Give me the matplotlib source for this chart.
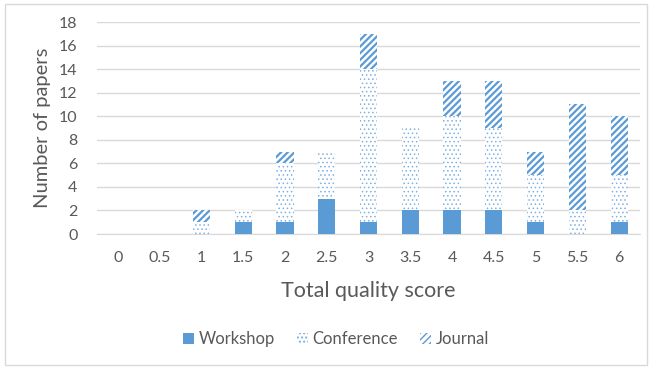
import matplotlib.pyplot as plt
import numpy as np

plt.rcParams['font.family'] = ['Lato', 'DejaVu Sans']

scores = ['0', '0.5', '1', '1.5', '2', '2.5', '3', '3.5', '4', '4.5', '5', '5.5', '6']
workshop = [0, 0, 0, 1, 1, 3, 1, 2, 2, 2, 1, 0, 1]
conference = [0, 0, 1, 1, 5, 4, 13, 7, 8, 7, 4, 2, 4]
journal = [0, 0, 1, 0, 1, 0, 3, 0, 3, 4, 2, 9, 5]

blue = '#5B9BD5'
text_col = '#595959'
grid_col = '#D9D9D9'

fig = plt.figure(figsize=(6.52, 3.69), dpi=100)
# outer chart border
fig.patches.append(plt.Rectangle((5 / 652, 4 / 369), 642 / 652, 361 / 369,
                                 transform=fig.transFigure, fill=False,
                                 edgecolor='#D9D9D9', linewidth=1))
ax = fig.add_axes([97 / 652, 1 - 234 / 369, 543 / 652, 212 / 369])

x = np.arange(len(scores))
w = 0.41
ws = np.array(workshop)
cs = np.array(conference)
js = np.array(journal)

ax.bar(x, ws, w, color=blue, linewidth=0, label='Workshop', zorder=3)
with plt.rc_context({'hatch.linewidth': 0.6}):
    ax.bar(x, cs, w, bottom=ws, facecolor='white', edgecolor='#7FB0E0',
           hatch='....', linewidth=0, label='Conference', zorder=3)
with plt.rc_context({'hatch.linewidth': 1.6}):
    ax.bar(x, js, w, bottom=ws + cs, facecolor='white', edgecolor=blue,
           hatch='/////', linewidth=0, label='Journal', zorder=3)

ax.set_xlim(-0.5, len(scores) - 0.5)
ax.set_ylim(0, 18)
ax.set_yticks(range(0, 19, 2))
ax.set_xticks(x)
ax.set_xticklabels(scores)
ax.yaxis.grid(True, color=grid_col, linewidth=1, zorder=0)
ax.set_axisbelow(True)
for s in ['top', 'right', 'left']:
    ax.spines[s].set_visible(False)
ax.spines['bottom'].set_color(grid_col)
ax.tick_params(axis='both', length=0, colors=text_col, labelsize=11.5)
ax.tick_params(axis='x', pad=12)
ax.tick_params(axis='y', pad=14)

ax.set_xlabel('Total quality score', fontsize=15.5, color=text_col, labelpad=12)
ax.set_ylabel('Number of papers', fontsize=14.5, color=text_col, labelpad=6)

leg = fig.legend(loc='center', bbox_to_anchor=(336 / 652, 1 - 339 / 369), ncol=3,
                 frameon=False, fontsize=12, handlelength=0.65, handleheight=0.65,
                 handletextpad=0.3, columnspacing=1.3, labelcolor=text_col)

fig.savefig('out.png', dpi=100)
